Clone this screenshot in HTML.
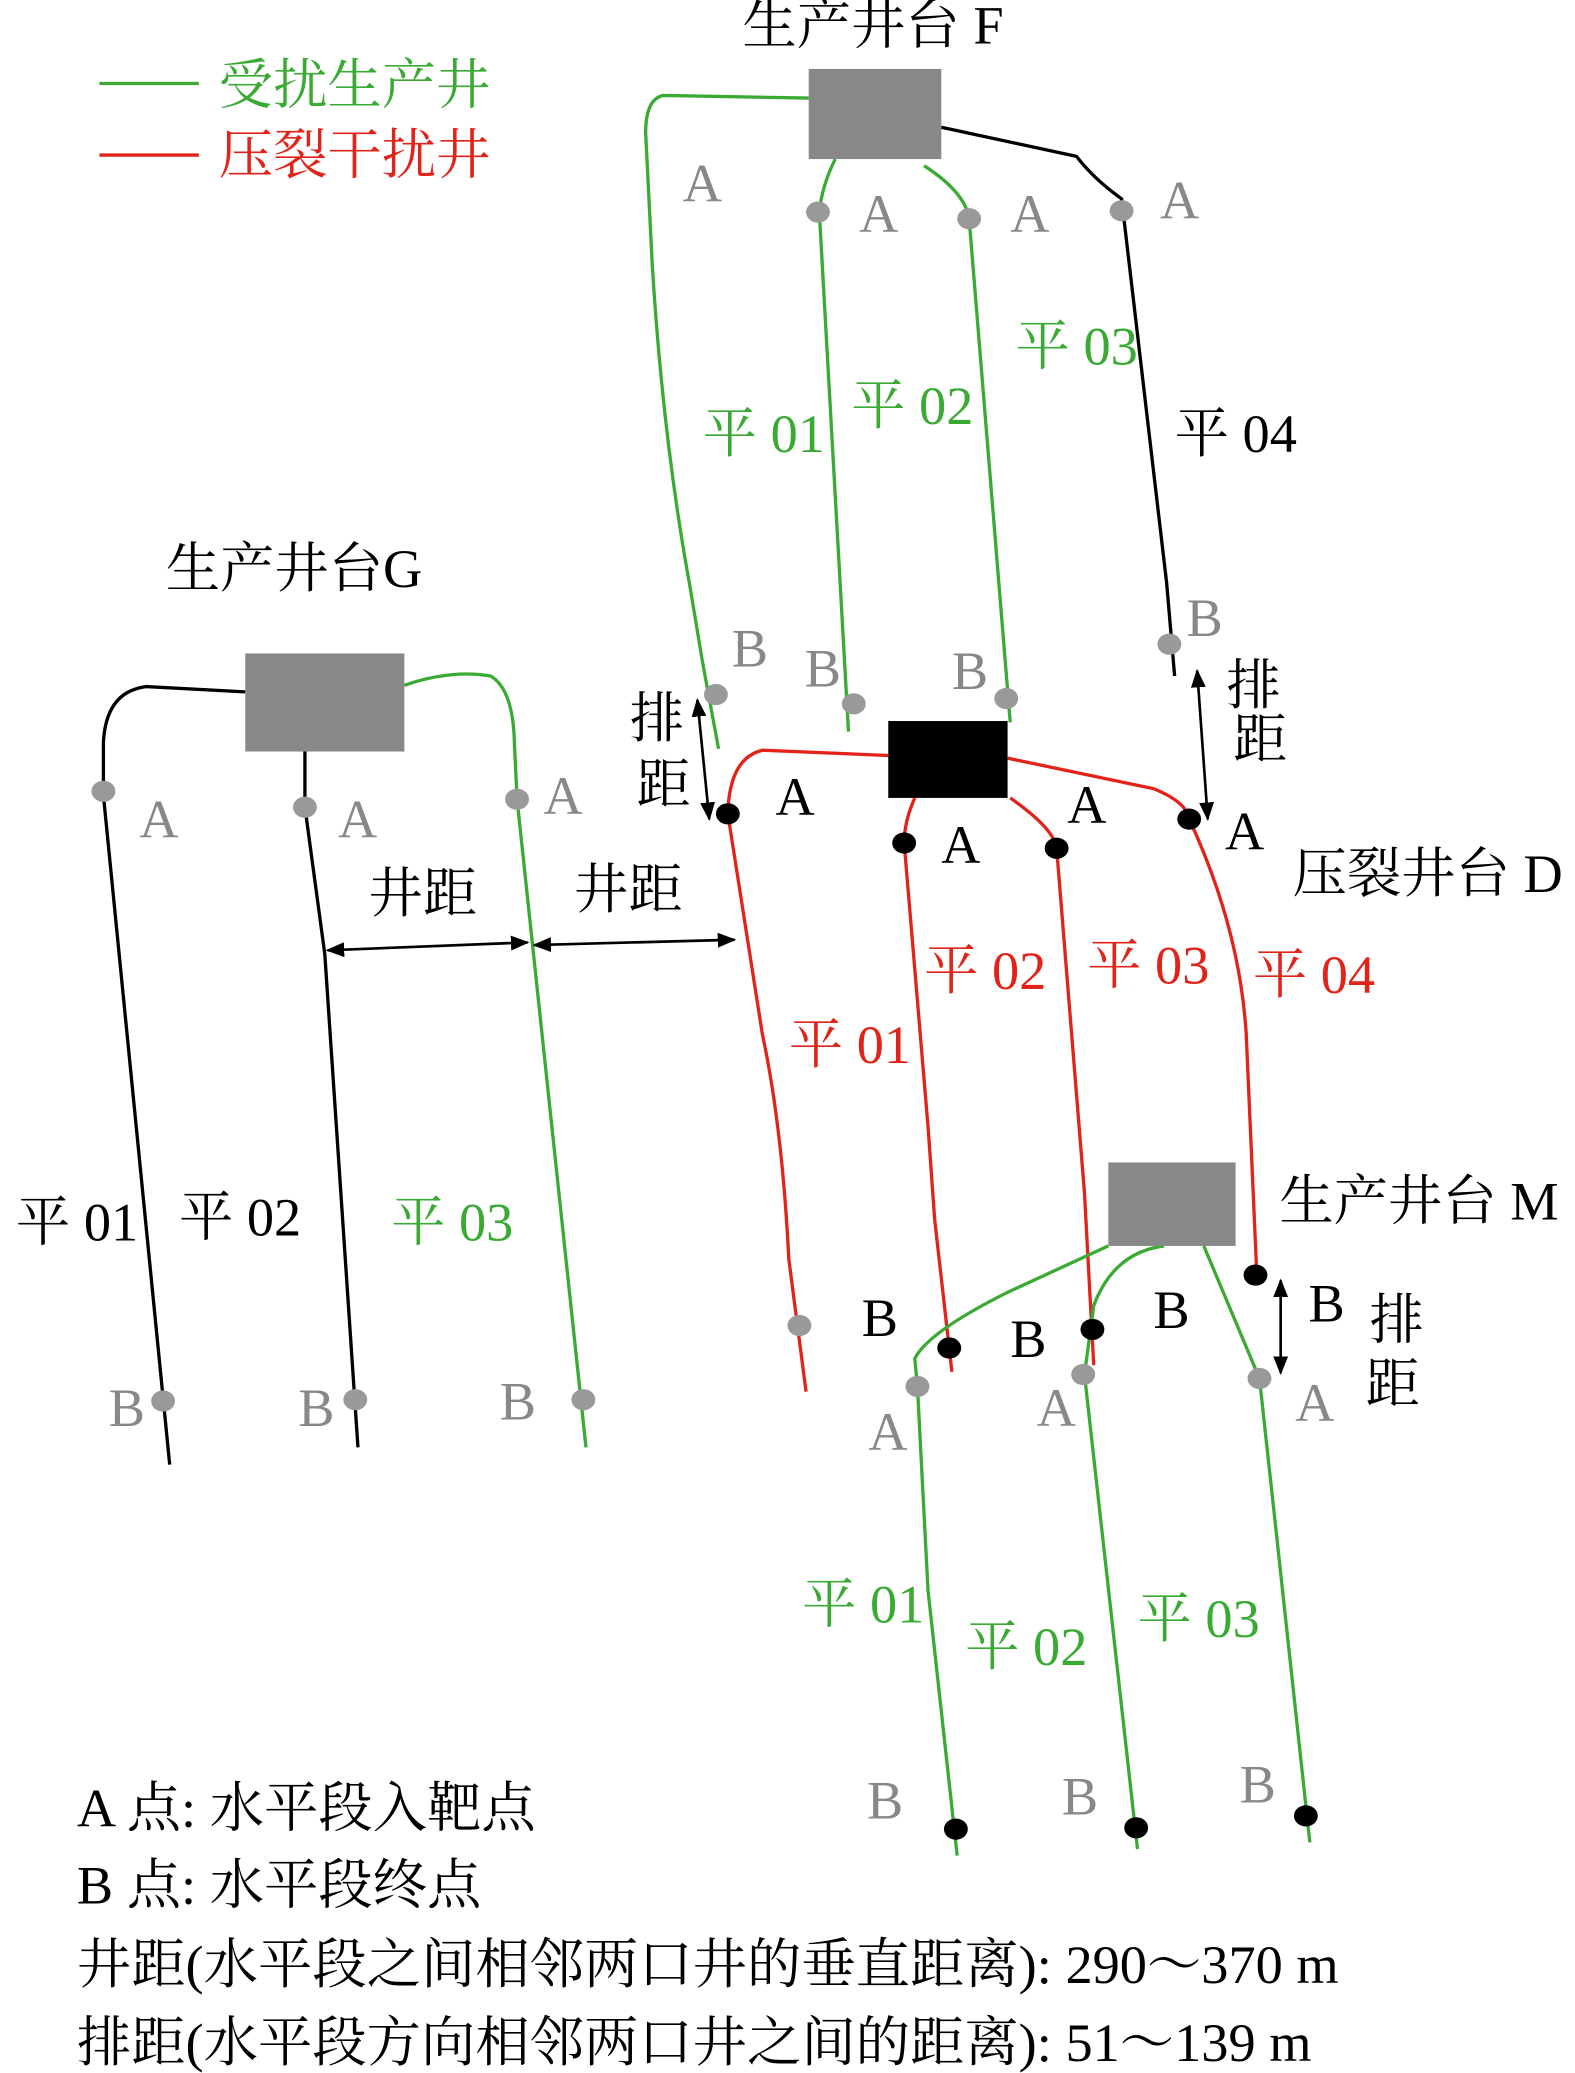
<!DOCTYPE html>
<html><head><meta charset="utf-8"><style>
html,body{margin:0;padding:0;background:#fff}
svg{display:block}
text{font-family:"Liberation Serif","Noto Serif CJK SC",serif;font-size:41px}
</style></head><body>
<svg width="1575" height="2073" viewBox="0 0 1188 1564" preserveAspectRatio="none">
<defs>
<marker id="ar" viewBox="0 0 10 10" refX="9" refY="5" markerWidth="7" markerHeight="7" orient="auto-start-reverse"><path d="M0,1 L10,5 L0,9 z" fill="#000"/></marker>
</defs>
<g fill="none" stroke-width="2.5">
<line x1="75" y1="63" x2="150" y2="63" stroke="#3aaa35"/>
<line x1="75" y1="117" x2="150" y2="117" stroke="#e2231a"/>
<path d="M610,74 L500,72 Q487,75 487,100 L492,200 Q500,330 520,440 L530,500 L542,565" stroke="#3aaa35"/>
<path d="M630,120 Q620,140 618,160 L640,552" stroke="#3aaa35"/>
<path d="M697,125 Q728,145 731,165 L762,545" stroke="#3aaa35"/>
<path d="M710,96 L812,118 Q825,135 846,150 L880,440 L886,510" stroke="#000"/>
<path d="M670,570 L575,566 Q550,572 549,614 L575,780 Q590,850 595,950 L608,1050" stroke="#e2231a"/>
<path d="M690,602 Q682,620 682,636 L700,850 L705,920 L718,1035" stroke="#e2231a"/>
<path d="M762,602 Q795,625 797,640 L818,900 L825,1030" stroke="#e2231a"/>
<path d="M760,572 L870,595 Q895,605 897,618 Q935,700 940,780 L948,962" stroke="#e2231a"/>
<path d="M185,522 L110,518 Q80,522 78,560 L78,600 L128,1105" stroke="#000"/>
<path d="M230,567 L230,609 L245,720 L270,1092" stroke="#000"/>
<path d="M305,517 Q340,505 370,510 Q387,520 388,560 L390,603 L442,1092" stroke="#3aaa35"/>
<path d="M836,940 L760,975 Q700,1005 690,1025 L692,1046 L700,1200 L722,1400" stroke="#3aaa35"/>
<path d="M878,940 Q840,945 825,985 L818,1037 L858,1395" stroke="#3aaa35"/>
<path d="M908,940 L950,1040 L962,1150 L988,1390" stroke="#3aaa35"/>
<line x1="526" y1="528" x2="535" y2="618" stroke="#000" stroke-width="2" marker-start="url(#ar)" marker-end="url(#ar)"/>
<line x1="903" y1="506" x2="911" y2="618" stroke="#000" stroke-width="2" marker-start="url(#ar)" marker-end="url(#ar)"/>
<line x1="966" y1="966" x2="966" y2="1036" stroke="#000" stroke-width="2" marker-start="url(#ar)" marker-end="url(#ar)"/>
<line x1="247" y1="717" x2="398" y2="711" stroke="#000" stroke-width="2" marker-start="url(#ar)" marker-end="url(#ar)"/>
<line x1="403" y1="713" x2="554" y2="709" stroke="#000" stroke-width="2" marker-start="url(#ar)" marker-end="url(#ar)"/>
</g>
<rect x="610" y="52" width="100" height="68" fill="#888"/>
<rect x="670" y="544" width="90" height="58" fill="#000"/>
<rect x="185" y="493" width="120" height="74" fill="#888"/>
<rect x="836" y="877" width="96" height="63" fill="#888"/>
<g fill="#999">
<ellipse cx="540" cy="524" rx="9" ry="8"/><ellipse cx="617" cy="160" rx="9" ry="8"/><ellipse cx="644" cy="531" rx="9" ry="8"/>
<ellipse cx="731" cy="165" rx="9" ry="8"/><ellipse cx="759" cy="527" rx="9" ry="8"/><ellipse cx="846" cy="159" rx="9" ry="8"/><ellipse cx="882" cy="486" rx="9" ry="8"/>
<ellipse cx="603" cy="1000" rx="9" ry="8"/>
<ellipse cx="78" cy="597" rx="9" ry="8"/><ellipse cx="123" cy="1057" rx="9" ry="8"/><ellipse cx="230" cy="609" rx="9" ry="8"/><ellipse cx="268" cy="1056" rx="9" ry="8"/>
<ellipse cx="390" cy="603" rx="9" ry="8"/><ellipse cx="440" cy="1056" rx="9" ry="8"/>
<ellipse cx="692" cy="1046" rx="9" ry="8"/><ellipse cx="817" cy="1037" rx="9" ry="8"/><ellipse cx="950" cy="1040" rx="9" ry="8"/>
</g>
<g fill="#000">
<ellipse cx="549" cy="614" rx="9" ry="8"/><ellipse cx="682" cy="636" rx="9" ry="8"/><ellipse cx="797" cy="640" rx="9" ry="8"/><ellipse cx="897" cy="618" rx="9" ry="8"/>
<ellipse cx="716" cy="1017" rx="9" ry="8"/><ellipse cx="824" cy="1003" rx="9" ry="8"/><ellipse cx="947" cy="962" rx="9" ry="8"/>
<ellipse cx="721" cy="1380" rx="9" ry="8"/><ellipse cx="857" cy="1379" rx="9" ry="8"/><ellipse cx="985" cy="1370" rx="9" ry="8"/>
</g>
<text x="165" y="78" fill="#3aaa35">受扰生产井</text>
<text x="165" y="131" fill="#e2231a">压裂干扰井</text>
<text x="560" y="33">生产井台 F</text>
<text x="125" y="443">生产井台G</text>
<text x="975" y="673">压裂井台 D</text>
<text x="965" y="920">生产井台 M</text>
<g fill="#888">
<text x="515" y="152">A</text><text x="648" y="175">A</text><text x="762" y="175">A</text><text x="875" y="165">A</text>
<text x="552" y="503">B</text><text x="607" y="518">B</text><text x="718" y="520">B</text><text x="895" y="480">B</text>
<text x="105" y="632">A</text><text x="255" y="632">A</text><text x="410" y="614">A</text>
<text x="82" y="1076">B</text><text x="225" y="1076">B</text><text x="377" y="1071">B</text>
<text x="655" y="1094">A</text><text x="782" y="1076">A</text><text x="977" y="1072">A</text>
<text x="654" y="1372">B</text><text x="801" y="1369">B</text><text x="935" y="1360">B</text>
</g>
<text x="585" y="615">A</text><text x="710" y="651">A</text><text x="805" y="621">A</text><text x="924" y="641">A</text>
<text x="650" y="1008">B</text><text x="762" y="1024">B</text><text x="870" y="1002">B</text><text x="987" y="997">B</text>
<g fill="#3aaa35">
<text x="530" y="341">平 01</text><text x="642" y="320">平 02</text><text x="766" y="275">平 03</text>
<text x="295" y="936">平 03</text>
<text x="605" y="1224">平 01</text><text x="728" y="1256">平 02</text><text x="858" y="1235">平 03</text>
</g>
<text x="886" y="341">平 04</text>
<text x="12" y="936">平 01</text><text x="135" y="932">平 02</text>
<g fill="#e2231a">
<text x="595" y="802">平 01</text><text x="697" y="746">平 02</text><text x="820" y="742">平 03</text><text x="945" y="749">平 04</text>
</g>
<text x="475" y="556">排</text><text x="480" y="606">距</text>
<text x="925" y="531">排</text><text x="930" y="572">距</text>
<text x="1033" y="1010">排</text><text x="1030" y="1058">距</text>
<text x="278" y="688">井距</text><text x="433" y="685">井距</text>
<text x="58" y="1378">A 点: 水平段入靶点</text>
<text x="58" y="1436">B 点: 水平段终点</text>
<text x="58" y="1496">井距(水平段之间相邻两口井的垂直距离): 290～370 m</text>
<text x="58" y="1555">排距(水平段方向相邻两口井之间的距离): 51～139 m</text>
</svg>
</body></html>
